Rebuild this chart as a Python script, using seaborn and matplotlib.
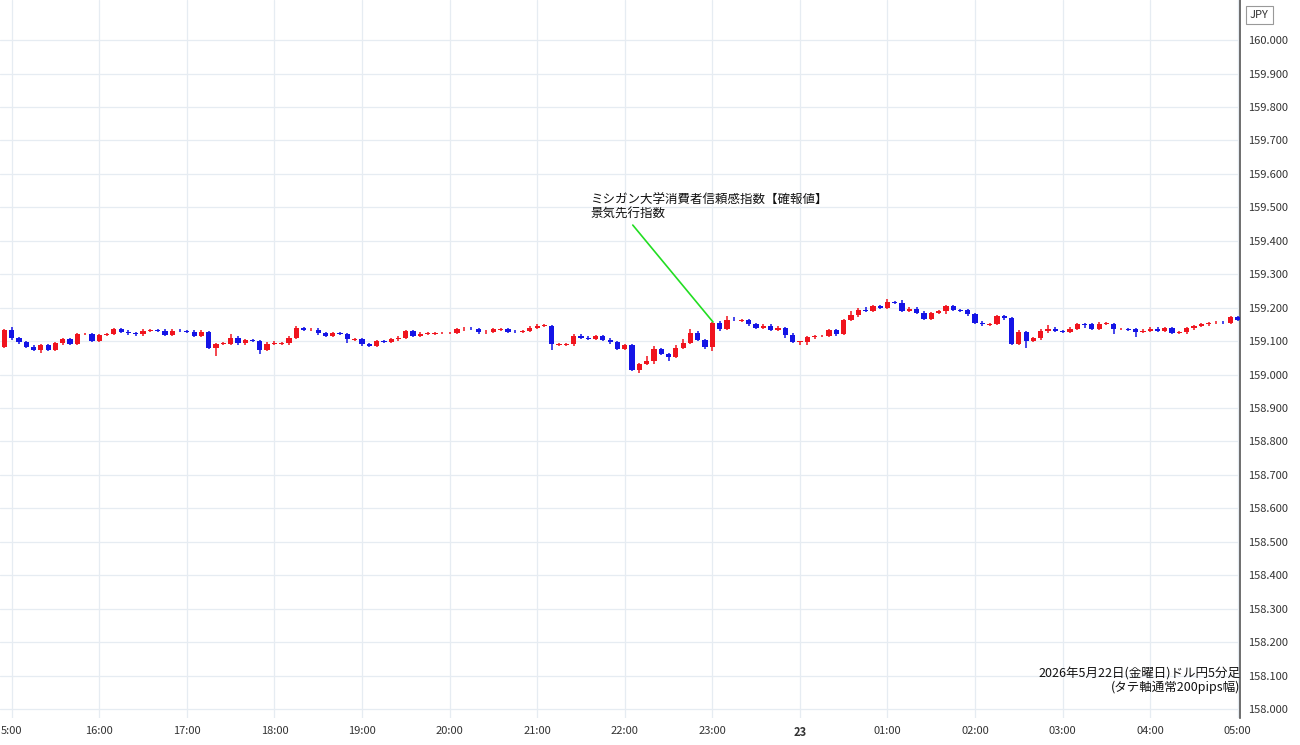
import numpy as np
import pandas as pd
import matplotlib
matplotlib.use("Agg")
import matplotlib.pyplot as plt
import seaborn as sns

closes = [159.133,159.108,159.096,159.083,159.073,159.088,159.073,159.093,159.105,159.092,
          159.121,159.121,159.101,159.118,159.121,159.135,159.128,159.123,159.120,159.131,
          159.132,159.131,159.118,159.131,159.130,159.128,159.115,159.128,159.078,159.092,
          159.092,159.108,159.093,159.103,159.101,159.072,159.090,159.093,159.093,159.110,
          159.138,159.133,159.134,159.123,159.116,159.123,159.121,159.105,159.105,159.090,
          159.085,159.100,159.098,159.105,159.110,159.130,159.115,
          159.122,159.122,159.124,159.124,159.124,159.135,159.137,159.136,159.126,159.128,
          159.135,159.136,159.128,159.127,159.130,159.140,159.146,159.146,159.090,159.090,
          159.090,159.116,159.110,159.106,159.114,159.104,159.096,159.076,159.088,159.014,
          159.031,159.040,159.076,159.062,159.052,159.078,159.093,159.125,159.103,159.081,
          159.155,159.135,159.164,159.162,159.162,159.150,159.140,159.146,159.134,159.140,
          159.118,159.098,159.098,159.112,159.115,159.115,
          159.133,159.122,159.162,159.177,159.194,159.190,159.204,159.199,159.217,159.215,
          159.190,159.197,159.185,159.167,159.184,159.190,159.204,159.193,159.192,159.180,
          159.155,159.150,159.150,159.175,159.168,159.092,159.126,159.101,159.108,159.131,
          159.137,159.130,159.128,159.137,159.151,159.150,159.136,159.152,159.152,159.136,
          159.136,159.135,159.128,159.131,159.137,159.131,159.139,159.125,159.126,159.138,
          159.145,159.150,159.154,159.155,159.154,159.172,159.164]
first_open = 159.083
# extra wick lengths (index: (up, down)) for visibly long shadows
long_wicks = {1: (0.010, 0.005), 5: (0.0, 0.010), 28: (0.0, 0.0), 29: (0.0, 0.022),
              31: (0.013, 0.0), 32: (0.008, 0.006), 35: (0.0, 0.010), 36: (0.006, 0.0),
              37: (0.007, 0.0), 40: (0.008, 0.0), 46: (0.004, 0.0), 47: (0.0, 0.012),
              75: (0.0, 0.018), 86: (0.0, 0.0), 87: (0.0, 0.008), 88: (0.016, 0.0),
              89: (0.010, 0.008), 90: (0.004, 0.0), 91: (0.0, 0.010), 92: (0.010, 0.0),
              93: (0.013, 0.0), 94: (0.010, 0.0), 97: (0.0, 0.011), 99: (0.010, 0.0),
              100: (0.008, 0.0), 107: (0.0, 0.008), 108: (0.006, 0.0), 109: (0.0, 0.010),
              110: (0.0, 0.010), 111: (0.0, 0.007), 114: (0.0, 0.007), 116: (0.012, 0.0),
              118: (0.008, 0.0), 121: (0.010, 0.0), 123: (0.007, 0.0), 129: (0.0, 0.008),
              136: (0.0, 0.0), 139: (0.006, 0.0), 140: (0.0, 0.023), 143: (0.012, 0.008),
              148: (0.0, 0.010), 152: (0.0, 0.016), 155: (0.0, 0.017)}
hour_labels = ["5:00","16:00","17:00","18:00","19:00","20:00","21:00","22:00","23:00",
               "23","01:00","02:00","03:00","04:00","05:00"]

opens = [first_open] + closes[:-1]
df = pd.DataFrame({"i": np.arange(len(closes)) - 1, "open": opens, "close": closes})
df["up"] = df["close"] >= df["open"]
hi, lo = [], []
for k, (o, c) in enumerate(zip(opens, closes)):
    u, d = long_wicks.get(k, (0.004, 0.004))
    hi.append(max(o, c) + max(u, 0.003)); lo.append(min(o, c) - max(d, 0.003))
df["high"], df["low"] = hi, lo

sns.set_theme(style="white")
plt.rcParams['font.family'] = ['Noto Sans CJK JP', 'DejaVu Sans']
fig = plt.figure(figsize=(13, 7.45), dpi=100)
ax = fig.add_axes([0, 27/745, 1240/1300, 718/745])
RED, BLUE = "#f0141e", "#1414e6"
MINH = 0.0022
for _, r in df.iterrows():
    col = RED if r.up else BLUE
    ax.vlines(r.i, r.low, r.high, color=col, lw=1.1, zorder=3)
    b0, b1 = sorted([r.open, r.close])
    if b1 - b0 < MINH:
        b0 = (b0 + b1) / 2 - MINH / 2
        b1 = b0 + MINH
    ax.bar(r.i, b1 - b0, bottom=b0, width=0.72, color=col, zorder=3, linewidth=0)

ax.set_xlim(-1.6, 168.3)
ax.set_ylim(157.973, 160.12)
ax.set_yticks(np.round(np.arange(158.0, 160.01, 0.1), 1))
ax.set_yticklabels([f"{v:.3f}" for v in np.arange(158.0, 160.01, 0.1)], fontsize=8, color="#333333")
ax.yaxis.tick_right()
ax.set_xticks(np.arange(0, 169, 12))
ax.set_xticklabels(hour_labels, fontsize=8, color="#333333")
for lab in ax.get_xticklabels():
    if lab.get_text() == "23":
        lab.set_fontweight("bold")
ax.tick_params(axis="both", length=0, pad=6)
ax.grid(True, color="#e6ecf2", lw=0.9)
for s in ["top", "left", "bottom"]:
    ax.spines[s].set_visible(False)
ax.spines["right"].set_color("#555555")
ax.spines["right"].set_linewidth(1.2)

# annotation
ax.plot([85.1, 96.1], [159.447, 159.157], color="#22dd22", lw=1.2, zorder=4)
ax.text(79.3, 159.50, "ミシガン大学消費者信頼感指数【確報値】\n景気先行指数", fontsize=9,
        va="center", ha="left", linespacing=1.0, color="#111111")
ax.text(1.0, 158.085, "2026年5月22日(金曜日)ドル円5分足\n(タテ軸通常200pips幅)", transform=ax.get_yaxis_transform(),
        ha="right", va="center", fontsize=9, linespacing=1.05, color="#111111")
fig.text(1250/1300, 1 - 15/745, "JPY", fontsize=8, va="center", ha="left", color="#333333",
         bbox=dict(boxstyle="square,pad=0.4", fc="white", ec="#999999", lw=0.8))
fig.savefig("out.png", dpi=100, facecolor="white")
